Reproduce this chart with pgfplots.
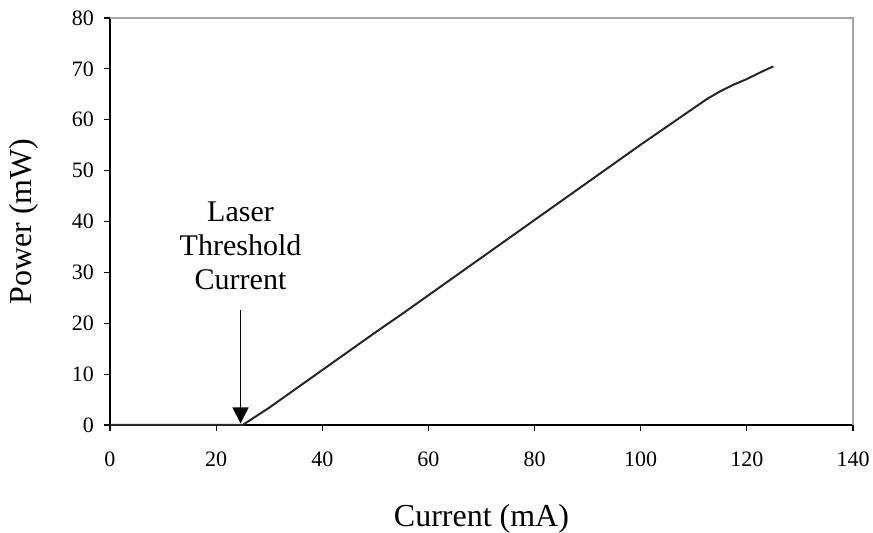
\documentclass[border=0pt]{standalone}
\usepackage{pgfplots}
\pgfplotsset{compat=1.18}
\usepackage{fontspec}
\setmainfont{Liberation Serif}
\usetikzlibrary{arrows.meta}
\begin{document}
\begin{tikzpicture}
\useasboundingbox (-55pt,-54pt) rectangle (381.5pt,212.5pt);
\begin{axis}[
  at={(0pt,0pt)}, anchor=south west,
  scale only axis,
  width=371.5pt, height=203.5pt,
  xmin=0, xmax=140, ymin=0, ymax=80,
  xtick={0,20,...,140}, ytick={0,10,...,80},
  axis x line*=bottom, axis y line*=left,
  axis line style={black, line width=0.75pt},
  tick align=outside,
  major tick length=3pt,
  tick style={black, line width=0.6pt},
  /pgf/number format/assume math mode=true,
  ticklabel style={font=\fontsize{11}{13}\selectfont},
  xticklabel style={yshift=-7pt},
  yticklabel style={xshift=-1.5pt},
  every axis x label/.style={at={(axis description cs:0.5,0)}, anchor=base, yshift=-51pt, font=\fontsize{16}{19}\selectfont},
  every axis y label/.style={at={(axis description cs:-0.116,0.5)}, anchor=center, rotate=90, font=\fontsize{16}{19}\selectfont},
  xlabel={Current (mA)},
  ylabel={Power (mW)},
  clip=false,
]
\draw[gray!70, line width=0.6pt] (rel axis cs:0,1) -- (rel axis cs:1,1) -- (rel axis cs:1,0);
\addplot[black!85, line width=1pt, mark=none] coordinates {
(0,0) (5,0) (10,0) (15,0) (20,0) (25,0)
(30,3.4) (35,7.1) (40,10.8) (45,14.5) (50,18.2) (55,21.8) (60,25.5)
(65,29.2) (70,32.9) (75,36.6) (80,40.3) (85,44.0) (90,47.7) (95,51.4)
(100,55.1) (105,58.7) (110,62.3) (112.5,64.1) (115,65.6) (117.5,66.9) (120,68.0) (122.5,69.3) (125,70.5)
};
\draw[black, line width=0.6pt, -{Triangle[width=8pt,length=8pt]}] (axis cs:24.6,22.6) -- (axis cs:24.6,0.3);
\node[align=center, font=\fontsize{15}{17}\selectfont] at (axis cs:24.6,35.2) {Laser\\Threshold\\Current};
\end{axis}
\end{tikzpicture}
\end{document}
